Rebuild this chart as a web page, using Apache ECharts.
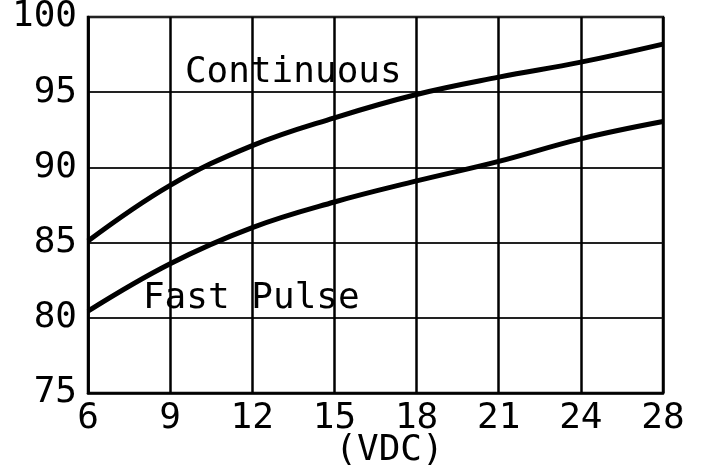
<!DOCTYPE html>
<html><head><meta charset="utf-8">
<script src="https://cdn.jsdelivr.net/npm/echarts@6/dist/echarts.min.js"></script>
<style>html,body{margin:0;padding:0;background:#fff}#c{width:707px;height:470px}</style>
</head><body><div id="c"></div>
<script>
var categories = ['6','9','12','15','18','21','24','28'];
var continuous = [85.1, 88.8, 91.45, 93.3, 94.85, 96.0, 97.0, 98.2];
var fastPulse = [80.45, 83.6, 86.0, 87.7, 89.1, 90.4, 91.9, 93.05];
var yTicks = {min: 75, max: 100, interval: 5};
var xName = '(VDC)';
var labelCont = 'Continuous';
var labelFast = 'Fast Pulse';

var FONT = 'DejaVu Sans Mono';
var chart = echarts.init(document.getElementById('c'), null, {renderer: 'canvas'});
function tag(text, x, y, dx, dy) {
  return {type: 'line', data: [], markPoint: {silent: true, symbol: 'circle', symbolSize: 1,
    itemStyle: {color: 'rgba(0,0,0,0)'},
    data: [{coord: [x, y], label: {show: true, position: 'inside', offset: [dx, dy], formatter: text, color: '#000', fontFamily: FONT, fontSize: 36, fontWeight: 'normal'}}]}};
}
chart.setOption({
  animation: false,
  backgroundColor: '#fff',
  grid: {left: 88, right: 44, top: 17, bottom: 77, show: true, borderColor: '#000', borderWidth: 2.5, containLabel: false, outerBoundsMode: 'none'},
  xAxis: {
    type: 'category', data: categories, boundaryGap: false,
    axisLine: {show: true, lineStyle: {color: '#000', width: 2.5}},
    axisTick: {show: false},
    axisLabel: {color: '#000', fontFamily: FONT, fontSize: 36, margin: 8},
    splitLine: {show: true, lineStyle: {color: '#000', width: 2.5}},
    name: xName, nameLocation: 'middle', nameGap: 40, nameMoveOverlap: false,
    nameTextStyle: {color: '#000', fontFamily: FONT, fontSize: 36, padding: [0, 0, 0, 28]}
  },
  yAxis: {
    type: 'value', min: yTicks.min, max: yTicks.max, interval: yTicks.interval,
    axisLine: {show: true, lineStyle: {color: '#000', width: 2.5}},
    axisTick: {show: false},
    axisLabel: {color: '#000', fontFamily: FONT, fontSize: 36, margin: 11},
    splitLine: {show: true, lineStyle: {color: '#222', width: 2}}
  },
  series: [
    {type: 'line', data: continuous, smooth: 0.4, symbol: 'none', lineStyle: {color: '#000', width: 5}},
    {type: 'line', data: fastPulse, smooth: 0.4, symbol: 'none', lineStyle: {color: '#000', width: 5}},
    tag(labelCont, 2, 96.3, 41, 0),
    tag(labelFast, 2, 81.3, -1, 0)
  ]
});
</script></body></html>
